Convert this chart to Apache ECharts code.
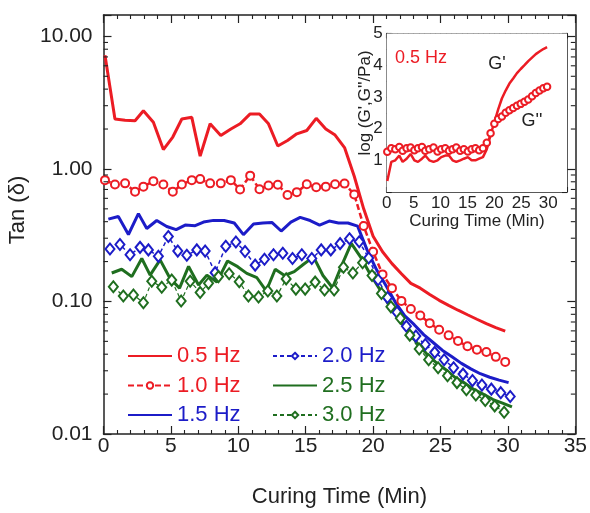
<!DOCTYPE html>
<html><head><meta charset="utf-8">
<script src="https://cdn.jsdelivr.net/npm/echarts@6/dist/echarts.min.js"></script>
<style>html,body{margin:0;padding:0;background:#fff}#c{width:590px;height:513px}</style>
</head><body><div id="c"></div>
<script>
// ---------- data ----------
const times = [0.11, 0.85, 1.60, 2.34, 2.96, 3.70, 4.44, 5.14, 5.81, 6.55, 7.17, 7.91, 8.70, 9.45, 10.13, 10.88, 11.57, 12.24, 12.93, 13.65, 14.34, 15.08, 15.78, 16.49, 17.18, 17.88, 18.60, 19.30, 20.00, 20.70, 21.40, 22.10, 22.80, 23.50, 24.20, 24.90, 25.60, 26.30, 27.00, 27.70, 28.40, 29.10, 29.80];
const seriesNames = ['0.5 Hz', '1.0 Hz', '1.5 Hz', '2.0 Hz', '2.5 Hz', '3.0 Hz'];
const timeOffsets = [0, 0, 0.25, 0.37, 0.5, 0.62];   // start of each frequency within a sweep (min)
const tan05 = [7.2, 2.38, 2.33, 2.31, 2.75, 2.25, 1.40, 1.74, 2.38, 2.45, 1.25, 2.19, 1.79, 2.0, 2.19, 2.6, 2.6, 2.19, 1.49, 1.64, 1.84, 1.95, 2.41, 2.0, 1.8, 1.45, 0.88,
  0.50, 0.31, 0.237, 0.193, 0.162, 0.137, 0.126, 0.113, 0.102, 0.0935, 0.0859, 0.0794, 0.0734, 0.068, 0.0635, 0.0598];
const tan10 = [0.823, 0.764, 0.778, 0.674, 0.735, 0.809, 0.764, 0.674, 0.764, 0.823, 0.838, 0.778, 0.778, 0.823, 0.70, 0.89, 0.703, 0.75, 0.76, 0.636, 0.668, 0.766, 0.728, 0.735, 0.766, 0.775, 0.642,
  0.371, 0.237, 0.16, 0.126, 0.101, 0.0877, 0.0783, 0.0686, 0.0611, 0.0555, 0.0503, 0.0459, 0.0433, 0.0416, 0.0382, 0.035];
const tan15 = [0.418, 0.438, 0.32, 0.46, 0.355, 0.408, 0.368, 0.348, 0.377, 0.373, 0.397, 0.409, 0.408, 0.391, 0.319, 0.384, 0.391, 0.395, 0.34, 0.397, 0.431, 0.408, 0.377, 0.404, 0.391, 0.391, 0.37,
  0.245, 0.174, 0.132, 0.0985, 0.078, 0.0668, 0.0562, 0.049, 0.0427, 0.0382, 0.0341, 0.031, 0.0285, 0.0268, 0.0255, 0.0244];
const tan20 = [0.249, 0.269, 0.225, 0.256, 0.245, 0.219, 0.309, 0.24, 0.223, 0.245, 0.24, 0.165, 0.261, 0.281, 0.238, 0.188, 0.208, 0.225, 0.231, 0.211, 0.225, 0.211, 0.245, 0.245, 0.273, 0.297, 0.282,
  0.213, 0.146, 0.107, 0.0829, 0.0651, 0.0548, 0.0473, 0.0413, 0.0363, 0.0316, 0.0283, 0.0253, 0.0234, 0.0218, 0.0205, 0.0192];
const tan25 = [0.164, 0.175, 0.154, 0.211, 0.158, 0.206, 0.149, 0.126, 0.184, 0.133, 0.158, 0.14, 0.202, 0.183, 0.163, 0.151, 0.12, 0.175, 0.157, 0.168, 0.191, 0.217, 0.157, 0.127, 0.188, 0.274, 0.214, 0.16, 0.123,
  0.0927, 0.0735, 0.0587, 0.0482, 0.0399, 0.0344, 0.0305, 0.0266, 0.0242, 0.0216, 0.0199, 0.0182, 0.0171, 0.016];
const tan30 = [0.129, 0.11, 0.112, 0.0977, 0.142, 0.128, 0.145, 0.1007, 0.142, 0.117, 0.137, 0.154, 0.162, 0.141, 0.11, 0.108, 0.12, 0.11, 0.148, 0.124, 0.124, 0.14, 0.122, 0.122, 0.181, 0.164, 0.196, 0.157, 0.115,
  0.0911, 0.0748, 0.0557, 0.0438, 0.0363, 0.0316, 0.0275, 0.0244, 0.0216, 0.0197, 0.0179, 0.0163, 0.0146];
// inset: 0.5 Hz moduli, log10(Pa)
const insetGp = [0.35, 0.95, 1.0, 1.15, 0.95, 1.05, 1.2, 1.0, 0.95, 1.05, 1.15, 1.0, 0.95, 1.0, 1.1, 1.15, 1.15, 1.0, 0.95, 1.0, 1.05, 1.1, 1.0, 1.0, 1.05, 1.1, 1.35,
  1.8, 2.2, 2.6, 2.95, 3.2, 3.42, 3.58, 3.75, 3.88, 4.0, 4.13, 4.24, 4.35, 4.43, 4.51, 4.57];
const insetGpp = [1.27, 1.38, 1.35, 1.42, 1.3, 1.38, 1.4, 1.32, 1.38, 1.42, 1.3, 1.35, 1.4, 1.28, 1.35, 1.38, 1.3, 1.35, 1.4, 1.3, 1.35, 1.28, 1.35, 1.38, 1.32, 1.38, 1.55,
  1.85, 2.15, 2.3, 2.38, 2.5, 2.58, 2.65, 2.72, 2.78, 2.85, 2.92, 3.02, 3.12, 3.2, 3.27, 3.32];
const yTickLabels = ['0.01', '0.10', '1.00', '10.00'];          // decades 10^-2 .. 10^1
const yMinorTickValues = [0.02, 0.03, 0.04, 0.05, 0.06, 0.07, 0.08, 0.09, 0.2, 0.3, 0.4, 0.5, 0.6, 0.7, 0.8, 0.9, 2, 3, 4, 5, 6, 7, 8, 9];

// ---------- styles ----------
const FONT = '"Liberation Sans", Arial, sans-serif';
const AX = '#222';
const RED = '#ec1c24', BLUE = '#1c1cc8', GREEN = '#1f6e1f';
const X_MIN = 0, X_MAX = 35, Y_MIN = 0.01, Y_MAX = 14.5;

function pairs(vals, off) { return vals.map((v, i) => [+(times[i] + off).toFixed(3), v]); }
const line = { color: AX, width: 1.5 };
function mainX(pos) {
  return {
    gridIndex: 0, type: 'value', min: X_MIN, max: X_MAX, interval: 5, position: pos,
    axisLine: { show: true, onZero: false, lineStyle: line },
    axisTick: { show: true, inside: true, length: 8, lineStyle: { color: AX, width: 1.2 } },
    minorTick: { show: true, splitNumber: 5, length: 4, lineStyle: { color: AX, width: 1.1 } },
    axisLabel: { show: pos === 'bottom', color: AX, fontSize: 21, fontFamily: FONT, margin: 2 },
    splitLine: { show: false }, minorSplitLine: { show: false }
  };
}
function mainYLog(pos) {
  return {
    gridIndex: 0, type: 'log', logBase: 10, min: Y_MIN, max: Y_MAX, position: pos,
    axisLine: { show: true, onZero: false, lineStyle: line },
    axisTick: { show: true, inside: true, length: 8, lineStyle: { color: AX, width: 1.2 } },
    axisLabel: {
      show: pos === 'left', color: AX, fontSize: 21, fontFamily: FONT, margin: 11,
      formatter: v => { const k = Math.log10(v); const r = Math.round(k); return Math.abs(k - r) < 1e-6 ? (yTickLabels[r + 2] || '') : ''; }
    },
    splitLine: { show: false }
  };
}
function insetX(pos) {
  return {
    gridIndex: 1, type: 'value', min: 0, max: 33.5, interval: 5, position: pos,
    axisLine: { show: true, onZero: false, lineStyle: line },
    axisTick: { show: true, inside: true, length: 5, lineStyle: { color: AX, width: 1.1 } },
    minorTick: { show: true, splitNumber: 5, length: 3, lineStyle: { color: AX, width: 1 } },
    axisLabel: { show: pos === 'bottom', color: AX, fontSize: 17, fontFamily: FONT, margin: 3, formatter: v => (v % 5 === 0 ? String(v) : '') },
    splitLine: { show: false }, minorSplitLine: { show: false }
  };
}
function insetY(pos) {
  return {
    gridIndex: 1, type: 'value', min: 0, max: 5, interval: 1, position: pos,
    axisLine: { show: true, onZero: false, lineStyle: line },
    axisTick: { show: true, inside: true, length: 5, lineStyle: { color: AX, width: 1.1 } },
    minorTick: { show: true, splitNumber: 2, length: 3, lineStyle: { color: AX, width: 1 } },
    axisLabel: { show: pos === 'left', color: AX, fontSize: 17, fontFamily: FONT, margin: 4, formatter: v => (v === 0 ? '' : String(v)) },
    splitLine: { show: false }, minorSplitLine: { show: false }
  };
}

const xAxes = [mainX('bottom'), mainX('top'), insetX('bottom'), insetX('top')];
Object.assign(xAxes[0], { name: 'Curing Time (Min)', nameLocation: 'middle', nameGap: 52, nameTextStyle: { color: AX, fontSize: 22, fontFamily: FONT } });
Object.assign(xAxes[2], { name: 'Curing Time (Min)', nameLocation: 'middle', nameGap: 15, nameTextStyle: { color: AX, fontSize: 17, fontFamily: FONT } });
const yAxes = [mainYLog('left'), mainYLog('right'), insetY('left'), insetY('right')];

const tanData = [tan05, tan10, tan15, tan20, tan25, tan30];
const colors = [RED, RED, BLUE, BLUE, GREEN, GREEN];
const solid = [true, false, true, false, true, false];
const styles = [
  { lineStyle: { width: 3 }, symbol: 'none' },
  { lineStyle: { width: 2.5, type: [6, 3] }, symbol: 'emptyCircle', symbolSize: 8, itemStyle: { borderWidth: 1.6 } },
  { lineStyle: { width: 3 }, symbol: 'none' },
  { lineStyle: { width: 1.5, type: [4, 3] }, symbol: 'emptyDiamond', symbolSize: [9, 11], itemStyle: { borderWidth: 1.8 } },
  { lineStyle: { width: 3 }, symbol: 'none' },
  { lineStyle: { width: 1.2, type: [4, 3] }, symbol: 'emptyDiamond', symbolSize: [9, 11], itemStyle: { borderWidth: 1.8 } }
];
const series = seriesNames.map((n, k) => Object.assign({
  name: n, type: 'line', xAxisIndex: 0, yAxisIndex: 0, color: colors[k], showSymbol: true,
  data: pairs(tanData[k], timeOffsets[k]), silent: true
}, styles[k], { lineStyle: Object.assign({ color: colors[k] }, styles[k].lineStyle), itemStyle: Object.assign({ color: colors[k] }, styles[k].itemStyle || {}) }));
series.push({ name: "G'", type: 'line', xAxisIndex: 2, yAxisIndex: 2, color: RED, symbol: 'none', lineStyle: { color: RED, width: 2.5 }, data: pairs(insetGp, 0), silent: true, z: 5 });
series.push({ name: "G''", type: 'line', xAxisIndex: 2, yAxisIndex: 2, color: RED, symbol: 'emptyCircle', symbolSize: 6.5, lineStyle: { color: RED, width: 1.2 }, itemStyle: { color: RED, borderWidth: 1.4 }, data: pairs(insetGpp, 0), silent: true, z: 5 });
// logarithmic minor ticks on both vertical sides of the main frame, placed through the log axis scale
series.push({
  name: 'logMinorTicks', type: 'custom', xAxisIndex: 0, yAxisIndex: 0, silent: true, clip: false, z: 4,
  data: yMinorTickValues.map(v => [X_MIN, v]),
  renderItem: (params, api) => {
    const l = api.coord([X_MIN, api.value(1)]);
    const r = api.coord([X_MAX, api.value(1)]);
    const st = { stroke: AX, lineWidth: 1.1 };
    return { type: 'group', children: [
      { type: 'line', shape: { x1: l[0], y1: l[1], x2: l[0] + 4.5, y2: l[1] }, style: st },
      { type: 'line', shape: { x1: r[0], y1: r[1], x2: r[0] - 4.5, y2: r[1] }, style: st }
    ] };
  }
});

function legendCol(names, left) {
  return {
    orient: 'vertical', left: left, top: 345, padding: 0, itemWidth: 44, itemHeight: 8, itemGap: 7.5, selectedMode: false,
    textStyle: { fontSize: 22, fontFamily: FONT, lineHeight: 20 },
    data: names.map(n => {
      const k = seriesNames.indexOf(n);
      const item = { name: n, textStyle: { color: colors[k] } };
      if (solid[k]) item.itemStyle = { opacity: 0 };
      return item;
    })
  };
}

const option = {
  animation: false,
  backgroundColor: '#fff',
  grid: [
    { left: 103.5, top: 15, width: 473, height: 425, containLabel: false },
    { left: 386.7, top: 33.5, width: 180.3, height: 158.5, containLabel: false, show: true, backgroundColor: '#fff', borderWidth: 0, z: 3 }
  ],
  xAxis: xAxes,
  yAxis: yAxes,
  legend: [legendCol(seriesNames.slice(0, 3), 127), legendCol(seriesNames.slice(3), 272)],
  graphic: [
    { type: 'text', x: 18, y: 210, rotation: Math.PI / 2, z: 10, style: { text: 'Tan (δ)', fill: AX, font: '22px ' + FONT, textAlign: 'center', textVerticalAlign: 'middle' } },
    { type: 'text', x: 365, y: 103, rotation: Math.PI / 2, z: 10, style: { text: "log (G',G''/Pa)", fill: AX, font: '17px ' + FONT, textAlign: 'center', textVerticalAlign: 'middle' } },
    { type: 'text', x: 395, y: 58, z: 10, style: { text: '0.5 Hz', fill: RED, font: '18px ' + FONT, textVerticalAlign: 'middle' } },
    { type: 'text', x: 497, y: 64, z: 10, style: { text: "G'", fill: AX, font: '18px ' + FONT, textAlign: 'center', textVerticalAlign: 'middle' } },
    { type: 'text', x: 532, y: 121, z: 10, style: { text: "G''", fill: AX, font: '18px ' + FONT, textAlign: 'center', textVerticalAlign: 'middle' } }
  ],
  series: series
};
echarts.init(document.getElementById('c'), null, { renderer: 'canvas' }).setOption(option);
</script></body></html>
